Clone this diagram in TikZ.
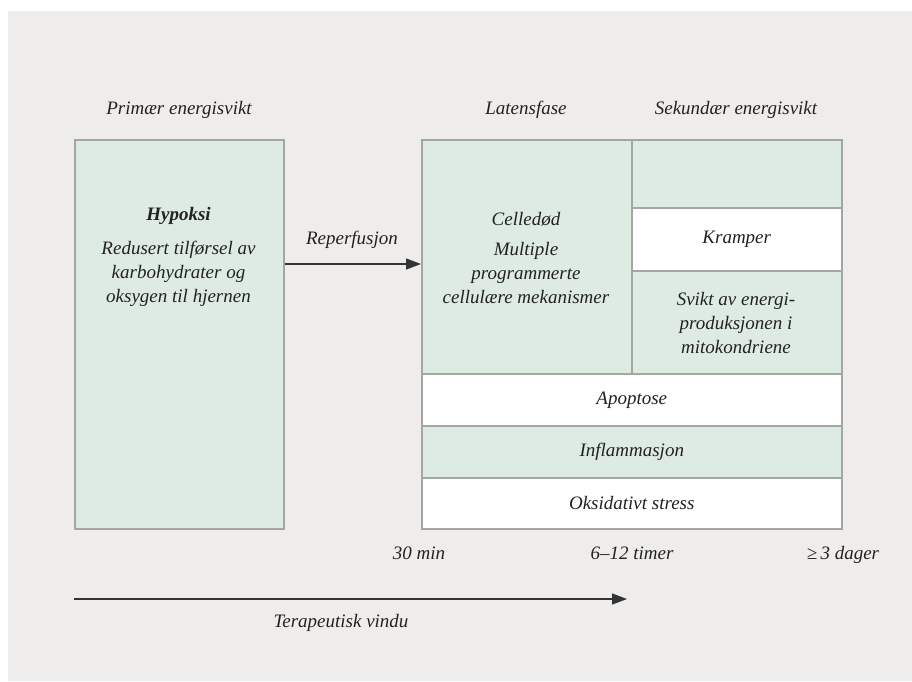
\documentclass[tikz,border=0pt]{standalone}
\usepackage{fontspec}
\setmainfont{Liberation Serif}
\usetikzlibrary{arrows.meta}
\definecolor{bggrey}{HTML}{EEEDEB}
\definecolor{cellgreen}{HTML}{DDEBE2}
\definecolor{cellborder}{HTML}{A3A6A3}
\definecolor{inkcol}{HTML}{222222}
\definecolor{arrowcol}{HTML}{333333}
\tikzset{
  txt/.style={font=\fontsize{19}{24}\selectfont\itshape, text=inkcol, inner sep=0pt, align=center},
  cell/.style={draw=cellborder, line width=1.5pt, inner sep=0pt, anchor=north west, txt},
  greencell/.style={cell, fill=cellgreen},
  whitecell/.style={cell, fill=white},
  conn/.style={draw=arrowcol, line width=1.3pt, -{Triangle[length=15pt,width=11pt]}}
}
\begin{document}
\begin{tikzpicture}[x=1pt,y=-1pt]
\useasboundingbox (0,0) rectangle (912,681);
\fill[bggrey] (8,11) rectangle (912,681);

% left box
\node[greencell, minimum width=209pt, minimum height=389pt] (prim) at (74,139) {};
\node[txt] (hyp) at (178.5,216) {\bfseries Hypoksi};
\node[txt, anchor=north] (hyptxt) at (178.5,241) {Redusert tilførsel av\\karbohydrater og\\oksygen til hjernen};

% right group
\node[greencell, minimum width=210pt, minimum height=234pt] (lat) at (421,139) {};
\node[greencell, minimum width=210pt, minimum height=68pt] (sektop) at (631,139) {};
\node[whitecell, minimum width=210pt, minimum height=63pt] (kramp) at (631,207) {Kramper};
\node[greencell, minimum width=210pt, minimum height=103pt] (svikt) at (631,270) {};
\node[whitecell, minimum width=420pt, minimum height=52pt] (apop) at (421,373) {Apoptose};
\node[greencell, minimum width=420pt, minimum height=52pt] (infl) at (421,425) {Inflammasjon};
\node[whitecell, minimum width=420pt, minimum height=51pt] (oks) at (421,477) {Oksidativt stress};

\node[txt] (celle) at (526,219) {Celledød};
\node[txt, anchor=north] (multi) at (526,242) {Multiple\\programmerte\\cellulære mekanismer};
\node[txt] (sviktxt) at (736,323) {Svikt av energi-\\produksjonen i\\mitokondriene};

% headers
\node[txt] (h1) at (179,110) {Primær energisvikt};
\node[txt] (h2) at (526,110) {Latensfase};
\node[txt] (h3) at (736,110) {Sekundær energisvikt};

% reperfusion arrow
\coordinate (rep) at (300,264);
\draw[conn] (prim.east |- rep) -- (lat.west |- rep);
\node[txt] (replab) at (352,240) {Reperfusjon};

% time labels
\node[txt, anchor=base] (t1) at (419,559) {30 min};
\node[txt, anchor=base] (t2) at (632,559) {6–12 timer};
\node[txt, anchor=base] (t3) at (843,559) {≥\,3 dager};

% therapeutic window
\coordinate (tstart) at (74,599);
\coordinate (tend) at (627,599);
\draw[conn] (tstart) -- (tend);
\node[txt] (tv) at (341,623) {Terapeutisk vindu};
\end{tikzpicture}
\end{document}
